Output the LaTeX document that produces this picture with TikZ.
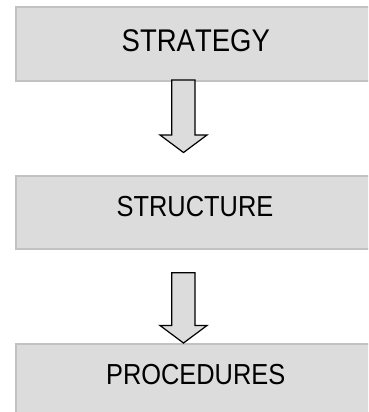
\documentclass[tikz,border=0pt]{standalone}
\usepackage{fontspec}
\setmainfont[Kerning=Off]{Liberation Sans}
\definecolor{boxfill}{HTML}{DCDCDC}
\definecolor{boxline}{HTML}{C2C2C2}
\tikzset{
  stagebox/.style={draw=boxline, line width=2pt, fill=boxfill, rectangle, inner sep=0pt},
  lbl/.style={inner sep=0pt, font=\fontsize{25.4}{30}\selectfont},
  biglbl/.style={inner sep=0pt, font=\fontsize{27.5}{32}\selectfont},
  blockarrow/.style={draw=black, line width=1.2pt, fill=boxfill, line join=miter}
}
\newcommand{\tallcaps}[1]{\scalebox{1}[1.14]{#1}}
\begin{document}
\begin{tikzpicture}[x=1pt,y=-1pt]
\useasboundingbox (0,0) rectangle (368,412);
\clip (0,0) rectangle (368,412);
\node[stagebox, minimum width=361pt, minimum height=73.5pt] (strategy) at (196,44.25) {};
\node[stagebox, minimum width=361pt, minimum height=73pt] (structure) at (196,212.5) {};
\node[stagebox, minimum width=361pt, minimum height=90pt] (procedures) at (196,389) {};
\node[biglbl] (t1) at (195.8,40.5) {\tallcaps{STRATEGY}};
\node[lbl] (t2) at (195,207) {\tallcaps{STRUCTURE}};
\node[lbl] (t3) at (195.7,374.7) {\tallcaps{PROCEDURES}};
\draw[blockarrow] (171.7,80) -- (171.7,135) -- (160,135) -- (183.5,152.5) -- (207,135) -- (195,135) -- (195,80) -- cycle;
\draw[blockarrow] (171.7,272.7) -- (171.7,325.5) -- (160,325.5) -- (183.5,343) -- (207,325.5) -- (195,325.5) -- (195,272.7) -- cycle;
\end{tikzpicture}
\end{document}
